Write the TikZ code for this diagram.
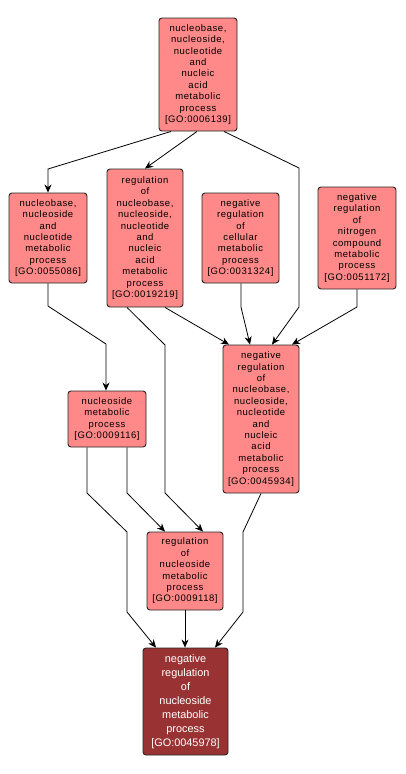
\documentclass[tikz,border=0pt]{standalone}
\usepackage{fontspec}
\setmainfont{Liberation Sans}
\newfontfamily\pinkfont[LetterSpace=6]{Liberation Sans}
\usetikzlibrary{arrows.meta}
\definecolor{gopink}{RGB}{255,136,136}
\definecolor{godark}{RGB}{153,51,51}
\tikzset{
  goterm/.style={draw=black!85, line width=0.9pt, rounded corners=3pt, fill=gopink,
    align=center, inner sep=0pt, font=\pinkfont\fontsize{9.5}{11.4}\selectfont},
  goquery/.style={goterm, fill=godark, text=white, font=\fontsize{10.9}{13.9}\selectfont},
  edge/.style={draw=black, line width=0.8pt, -{Stealth[length=8pt,width=7pt,inset=2.5pt]}}
}
\begin{document}
\begin{tikzpicture}[x=1pt,y=-1pt]
\fill[white] (0,0) rectangle (406,774);
\useasboundingbox (0,0) rectangle (406,774);

\node[goterm, minimum width=78pt, minimum height=113pt] (top) at (198,74.5)
  {nucleobase,\\nucleoside,\\nucleotide\\and\\nucleic\\acid\\metabolic\\process\\{[GO:0006139]}};
\node[goterm, minimum width=78pt, minimum height=90pt] (a) at (48,238)
  {nucleobase,\\nucleoside\\and\\nucleotide\\metabolic\\process\\{[GO:0055086]}};
\node[goterm, minimum width=76pt, minimum height=138pt] (b) at (145,238)
  {regulation\\of\\nucleobase,\\nucleoside,\\nucleotide\\and\\nucleic\\acid\\metabolic\\process\\{[GO:0019219]}};
\node[goterm, minimum width=77pt, minimum height=90pt] (c) at (240.5,238)
  {negative\\regulation\\of\\cellular\\metabolic\\process\\{[GO:0031324]}};
\node[goterm, minimum width=78pt, minimum height=102pt] (d) at (357,238)
  {negative\\regulation\\of\\nitrogen\\compound\\metabolic\\process\\{[GO:0051172]}};
\node[goterm, minimum width=76pt, minimum height=148pt] (e) at (261,419)
  {negative\\regulation\\of\\nucleobase,\\nucleoside,\\nucleotide\\and\\nucleic\\acid\\metabolic\\process\\{[GO:0045934]}};
\node[goterm, minimum width=78pt, minimum height=56pt] (f) at (107,419)
  {nucleoside\\metabolic\\process\\{[GO:0009116]}};
\node[goterm, minimum width=76pt, minimum height=78pt] (g) at (185,571)
  {regulation\\of\\nucleoside\\metabolic\\process\\{[GO:0009118]}};
\node[goquery, minimum width=85pt, minimum height=107pt] (h) at (185.5,701.5)
  {negative\\regulation\\of\\nucleoside\\metabolic\\process\\{[GO:0045978]}};

\draw[edge] ([xshift=-27pt]top.south) -- (48,169) -- (a.north);
\draw[edge] ([xshift=-1pt]top.south) -- (b.north);
\draw[edge] ([xshift=26pt]top.south) -- (299,168) -- (299,307) -- ([xshift=11pt]e.north);
\draw[edge] (a.south) -- (48,306) -- (106,344) -- ([xshift=-1pt]f.north);
\draw[edge] ([xshift=-18pt]b.south) -- (165,345) -- (165,493) -- ([xshift=18pt]g.north);
\draw[edge] ([xshift=20pt]b.south) -- ([xshift=-32pt]e.north);
\draw[edge] ([xshift=0.5pt]c.south) -- (241,307) -- ([xshift=-11pt]e.north);
\draw[edge] (d.south) -- (357,307) -- ([xshift=31pt]e.north);
\draw[edge] ([xshift=20pt]f.south) -- (127,493) -- ([xshift=-20pt]g.north);
\draw[edge] ([xshift=-20pt]f.south) -- (87,493) -- (127,532) -- (127,612) -- ([xshift=-29.5pt]h.north);
\draw[edge] (e.south) -- (243,532) -- (243,612) -- ([xshift=29.5pt]h.north);
\draw[edge] (g.south) -- ([xshift=-0.5pt]h.north);
\end{tikzpicture}
\end{document}
